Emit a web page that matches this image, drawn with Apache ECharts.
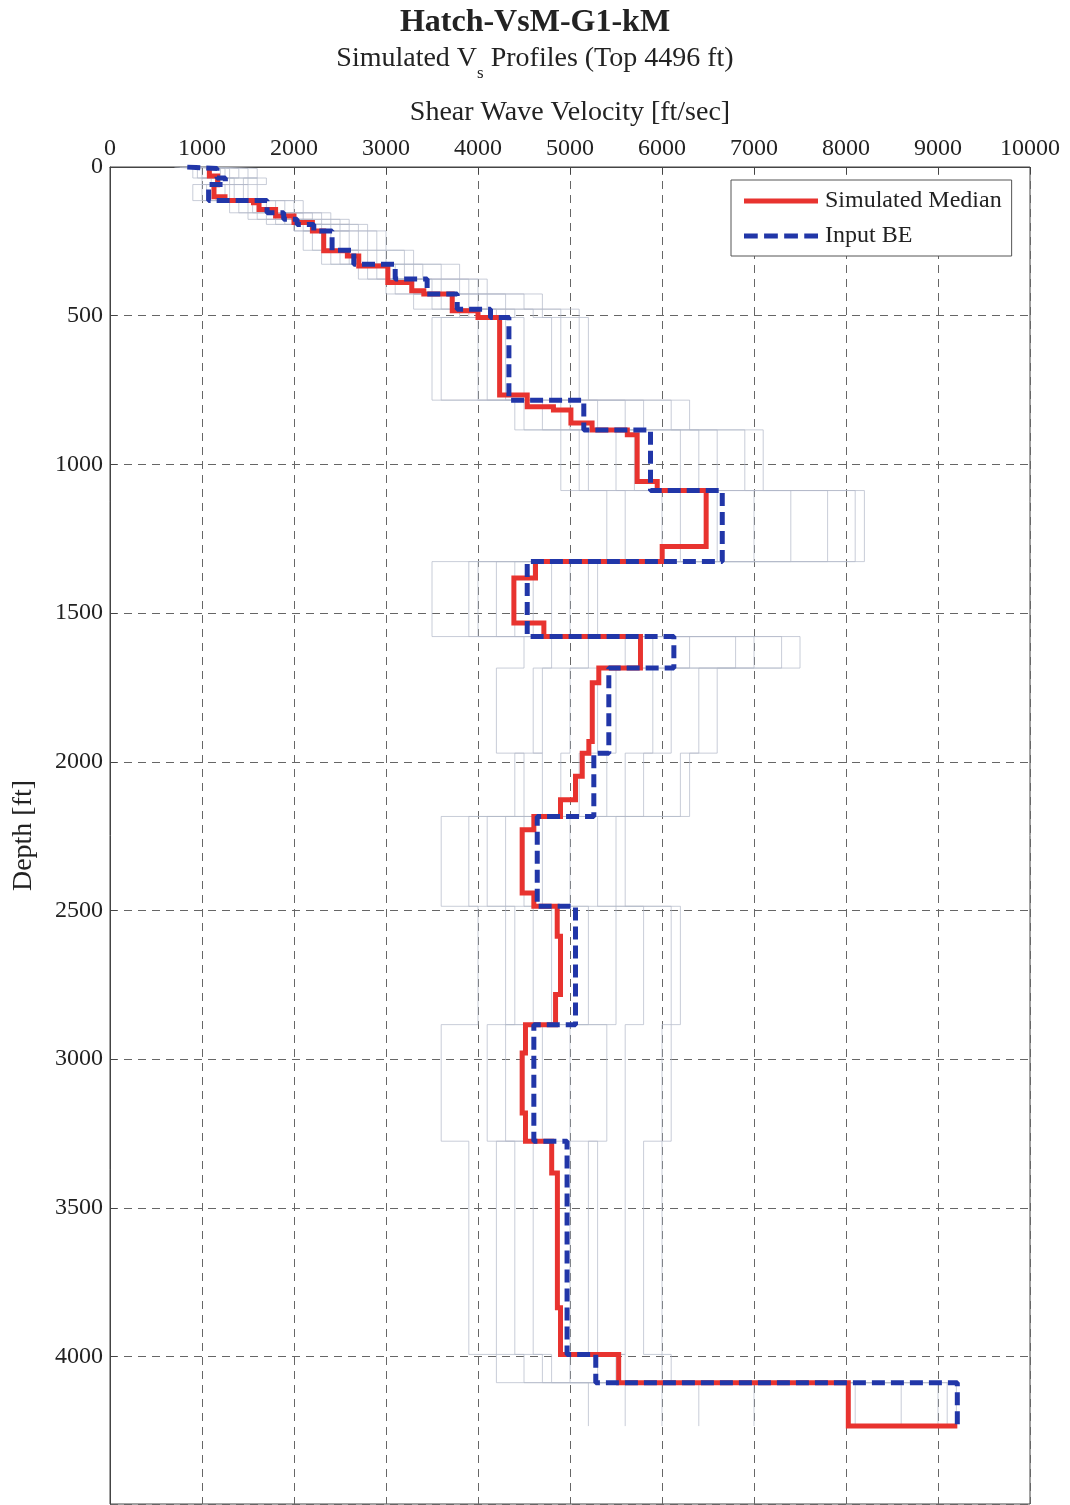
<!DOCTYPE html>
<html>
<head>
<meta charset="utf-8">
<script src="https://cdn.jsdelivr.net/npm/echarts@6/dist/echarts.min.js"></script>
<style>
html,body{margin:0;padding:0;background:#fff;}
#chart{width:1070px;height:1505px;}
</style>
</head>
<body>
<div id="chart"></div>
<script>
// ---------------- data ----------------
const xTicks = [0,1000,2000,3000,4000,5000,6000,7000,8000,9000,10000];
const depthTicks = [0,500,1000,1500,2000,2500,3000,3500,4000];
const depthMax = 4496;
const profileBottom = 4234;
const halfSpaceVs = 9210;

// Input BE profile: layer tops [ft] and Vs [ft/s]
const beTops = [0,5,37,59,113,154,176,193,215,280,327,377,427,478,506,784,884,1088,1327,1579,1685,1971,2184,2486,2884,3276,3993,4088];
const beVs   = [840,1163,1254,1072,1707,1888,2033,2215,2414,2650,3100,3447,3774,4136,4336,5150,5875,6655,4535,6129,5422,5259,4644,5060,4607,4968,5280,9210];

// Simulated median profile
const medTops = [0,30,60,100,113,120,143,165,187,215,282,299,333,388,416,427,483,506,767,806,817,861,884,900,1058,1088,1276,1327,1382,1533,1579,1685,1734,1932,1971,2049,2128,2184,2229,2441,2486,2587,2783,2884,2979,3181,3276,3383,3836,3993,4088];
const medVs   = [1080,1170,1130,1250,1560,1620,1800,2000,2200,2323,2580,2704,3020,3280,3411,3720,4000,4235,4535,4820,5010,5240,5623,5730,5948,6480,6002,4625,4390,4716,5766,5313,5242,5205,5133,5060,4897,4607,4480,4607,4861,4897,4843,4516,4480,4516,4801,4863,4897,5529,8025];

// Individual simulated realizations (estimated, on the BE layering)
const sim1  = [780,1000,1500,1300,1500,1700,1900,2500,2700,2300,2900,3300,3900,4400,3600,4700,5500,6200,4000,5200,5000,4900,4100,4600,4300,4600,4800,8600];
const sim2  = [950,1300,1150,900,1900,2100,2200,2000,2200,2900,3400,3100,3500,4600,4800,5600,6600,7400,4800,6800,5900,5600,5000,5500,5000,5300,5600,9100];
const sim3  = [700,900,1200,1250,1400,1600,2300,2000,2600,2500,2800,3800,4100,3800,4100,4900,5200,5600,4400,5600,4600,4700,4300,4400,4100,4400,4500,5200];
const sim4  = [1050,1500,1700,1600,2000,2300,2400,2800,2900,3200,3600,4000,4300,4900,5100,6100,6900,8100,5200,7300,6400,6200,5500,6100,6000,5800,6000,6400];
const sim5  = [880,1100,1350,1000,1600,1800,1700,2100,2300,2600,3000,3500,3600,4200,4000,4400,4900,6000,3500,4500,4200,4500,3600,4000,3600,3900,4200,5600];
const sim6  = [1000,1250,1000,1450,1800,2000,2100,2400,2500,2700,3200,3300,4000,4000,4500,5300,6200,7000,4600,6300,5500,5100,4700,5200,4700,5000,5300,8100];
const sim7  = [820,1400,1300,1150,1300,1500,2000,2300,2100,2400,3300,3600,3300,4300,4300,5000,5700,6600,4200,5900,5300,5400,4500,4800,5400,5200,5000,6000];
const sim8  = [900,1200,1600,1350,2100,1900,2600,2200,2800,3000,2700,4100,4500,4700,4900,5800,6400,7800,5000,7000,6100,5800,5300,5800,5600,5600,5500,9200];
const sim9  = [760,950,1100,1050,1700,2200,1800,2600,2400,2800,3100,3000,3700,3900,3500,4500,5100,5400,3900,4800,4700,4400,3900,4300,4500,4200,4700,7000];
const sim10 = [1100,1600,1450,1500,1550,2400,2500,2700,3000,3300,3800,3900,4700,5100,5200,6300,7100,8200,5300,7500,6600,6300,5600,6200,6100,6000,6100,9000];
const sims = [sim1,sim2,sim3,sim4,sim5,sim6,sim7,sim8,sim9,sim10];

// ---------------- helpers ----------------
function stepPoints(tops, vs, bottom) {
  const pts = [];
  for (let i = 0; i < vs.length; i++) {
    const b = i + 1 < tops.length ? tops[i + 1] : bottom;
    pts.push([vs[i], tops[i]]);
    pts.push([vs[i], b]);
  }
  return pts;
}

const FONT = "'Liberation Serif','DejaVu Serif',serif";
const series = [];
sims.forEach((s, k) => {
  series.push({
    name: 'sim' + (k + 1), type: 'line', data: stepPoints(beTops, s, profileBottom),
    symbol: 'none', silent: true, z: 1,
    lineStyle: { color: '#b3bac8', width: 0.8, opacity: 0.9 }
  });
});
const medPts = stepPoints(medTops, medVs, profileBottom);
medPts.push([halfSpaceVs, profileBottom]);
series.push({
  name: 'Simulated Median', type: 'line', data: medPts, symbol: 'none', z: 5,
  lineStyle: { color: '#e8332f', width: 5, join: 'miter' }, itemStyle: { color: '#e8332f' }
});
series.push({
  name: 'Input BE', type: 'line', data: stepPoints(beTops, beVs, profileBottom), symbol: 'none', z: 6,
  lineStyle: { color: '#2136a8', width: 5, type: [13, 6] }, itemStyle: { color: '#2136a8' }
});

const chart = echarts.init(document.getElementById('chart'), null, { renderer: 'canvas' });
chart.setOption({
  animation: false,
  backgroundColor: '#fff',
  title: [
    { text: 'Hatch-VsM-G1-kM', left: 'center', top: 2,
      textStyle: { fontFamily: FONT, fontSize: 32, fontWeight: 'bold', color: '#222' } },
    { text: '{a|Simulated V}{s|s}{a| Profiles (Top 4496 ft)}', left: 'center', top: 40,
      textStyle: { fontFamily: FONT, color: '#222', fontWeight: 'normal',
        rich: {
          a: { fontFamily: FONT, fontSize: 28, fontWeight: 'normal', color: '#222', verticalAlign: 'bottom', padding: [0, 0, 9, 0] },
          s: { fontFamily: FONT, fontSize: 17, fontWeight: 'normal', color: '#222', verticalAlign: 'bottom' }
        } } }
  ],
  legend: {
    data: [
      { name: 'Simulated Median', icon: 'path://M0,0h70v5h-70z' },
      { name: 'Input BE', icon: 'path://M0,0h13v5h-13zM19,0h13v5h-13zM38,0h13v5h-13zM57,0h13v5h-13z' }
    ],
    orient: 'vertical', left: 731, top: 180,
    padding: [9, 10, 8, 13], itemGap: 11, itemWidth: 74, itemHeight: 5,
    symbolKeepAspect: false,
    backgroundColor: '#fff', borderColor: '#555', borderWidth: 1,
    textStyle: { fontFamily: FONT, fontSize: 24, color: '#222', padding: [0, 0, 0, 2] }
  },
  grid: { left: 110, right: 40, top: 167, bottom: 1, show: true, borderColor: '#444', borderWidth: 1, backgroundColor: 'transparent' },
  xAxis: {
    type: 'value', position: 'top', min: 0, max: 10000, interval: 1000,
    name: 'Shear Wave Velocity [ft/sec]', nameLocation: 'middle', nameGap: 40,
    nameTextStyle: { fontFamily: FONT, fontSize: 28, color: '#222' },
    axisLine: { show: true, lineStyle: { color: '#444' } },
    axisTick: { show: true, inside: true, length: 7, lineStyle: { color: '#444' } },
    axisLabel: { fontFamily: FONT, fontSize: 24, color: '#222', margin: 6,
      formatter: v => (xTicks.indexOf(v) >= 0 ? String(v) : '') },
    splitLine: { show: true, lineStyle: { color: '#666', type: [8, 6], width: 1 } }
  },
  yAxis: {
    type: 'value', inverse: true, min: 0, max: depthMax, interval: 500,
    name: 'Depth [ft]', nameLocation: 'middle', nameGap: 72, nameRotate: 90,
    nameTextStyle: { fontFamily: FONT, fontSize: 28, color: '#222' },
    axisLine: { show: true, lineStyle: { color: '#444' } },
    axisTick: { show: true, inside: true, length: 7, lineStyle: { color: '#444' } },
    axisLabel: { fontFamily: FONT, fontSize: 24, color: '#222', margin: 7, showMaxLabel: false,
      formatter: v => (depthTicks.indexOf(v) >= 0 ? String(v) : '') },
    splitLine: { show: true, lineStyle: { color: '#666', type: [8, 6], width: 1 } }
  },
  series: series
});
</script>
</body>
</html>
